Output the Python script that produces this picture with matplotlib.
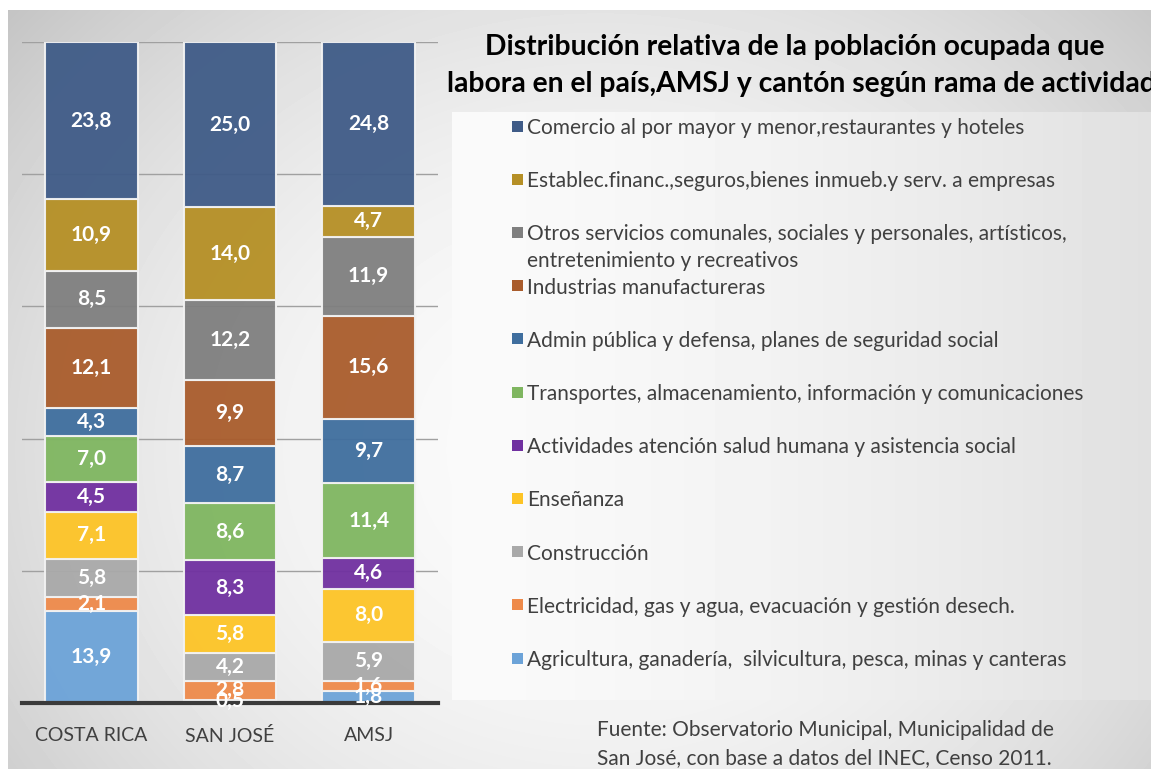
import matplotlib.pyplot as plt
import numpy as np
from matplotlib.patches import Rectangle

plt.rcParams['font.family'] = ['Lato', 'DejaVu Sans']

# data (stack order bottom -> top)
places = ['COSTA RICA', 'SAN JOSÉ', 'AMSJ']
ramas = [
    'Agricultura, ganadería,  silvicultura, pesca, minas y canteras',
    'Electricidad, gas y agua, evacuación y gestión desech.',
    'Construcción',
    'Enseñanza',
    'Actividades atención salud humana y asistencia social',
    'Transportes, almacenamiento, información y comunicaciones',
    'Admin pública y defensa, planes de seguridad social',
    'Industrias manufactureras',
    'Otros servicios comunales, sociales y personales, artísticos,\nentretenimiento y recreativos',
    'Establec.financ.,seguros,bienes inmueb.y serv. a empresas',
    'Comercio al por mayor y menor,restaurantes y hoteles',
]
costa_rica = [13.9, 2.1, 5.8, 7.1, 4.5, 7.0, 4.3, 12.1, 8.5, 10.9, 23.8]
san_jose = [0.5, 2.8, 4.2, 5.8, 8.3, 8.6, 8.7, 9.9, 12.2, 14.0, 25.0]
amsj = [1.8, 1.6, 5.9, 8.0, 4.6, 11.4, 9.7, 15.6, 11.9, 4.7, 24.8]
colors = ['#6CA3D8', '#EE8A4A', '#A9A9A9', '#FDC426', '#7030A0', '#7FB660',
          '#3F6E9E', '#A95C2C', '#7F7F7F', '#B58F25', '#3F5B87']
fuente = ['Fuente: Observatorio Municipal, Municipalidad de',
          'San José, con base a datos del INEC, Censo 2011.']

W, H = 1151, 769
fig = plt.figure(figsize=(W / 100, H / 100), dpi=100)

# background: soft radial gray gradient + lighter legend panel
yy, xx = np.mgrid[0:H, 0:W]
r2 = ((xx - 600) / 750.0) ** 2 + ((yy - 450) / 650.0) ** 2
bg = 0.985 - 0.2 * np.clip(r2, 0, 1.3)
panel = (xx >= 452) & (yy >= 112) & (yy <= 699)
bg[panel] = 0.98 - 0.1 * ((xx[panel] - 452) / 699.0) ** 1.5
bg[:10, :] = 1.0
bg[:, :8] = 1.0
bax = fig.add_axes([0, 0, 1, 1], zorder=-5)
bax.imshow(bg, cmap='gray', vmin=0, vmax=1, aspect='auto', interpolation='bilinear')
bax.axis('off')

ax = fig.add_axes([22 / W, 66 / H, 416 / W, 661 / H])
ax.patch.set_alpha(0)

x = np.arange(len(places))
bottom = np.zeros(len(places))
for i, rama in enumerate(ramas):
    vals = np.array([costa_rica[i], san_jose[i], amsj[i]])
    bars = ax.bar(x, vals, 0.667, bottom=bottom, color=colors[i], alpha=0.95,
                  edgecolor='#F2F2F2', linewidth=1.5, zorder=2)
    ax.bar_label(bars, labels=[f'{v:.1f}'.replace('.', ',') for v in vals],
                 label_type='center', color='white', fontsize=15, fontweight='bold')
    bottom += vals

ax.set_xlim(-0.5, 2.5)
ax.set_ylim(0, 100)
ax.set_yticks(np.arange(0, 101, 20))
ax.yaxis.grid(True, color='#A0A0A0', linewidth=1, zorder=0)
ax.set_axisbelow(True)
ax.tick_params(axis='y', left=False, labelleft=False)
ax.set_xticks(x)
ax.set_xticklabels(places, fontsize=14, color='#404040')
ax.tick_params(axis='x', length=0, pad=17)
for s in ['top', 'right', 'left']:
    ax.spines[s].set_visible(False)
ax.spines['bottom'].set_color('#3A3A3A')
ax.spines['bottom'].set_linewidth(3)

# title (second line runs past the right edge, as in the original)
fig.text(795 / W, 1 - 47 / H, 'Distribución relativa de la población ocupada que',
         ha='center', va='center', fontsize=20.3, fontweight='bold', color='black')
fig.text(447 / W, 1 - 84 / H, 'labora en el país,AMSJ y cantón según rama de actividad',
         ha='left', va='center', fontsize=20.3, fontweight='bold', color='black')

# legend (top -> bottom)
for k, i in enumerate(range(len(ramas) - 1, -1, -1)):
    yc = 126 + 53.2 * k
    fig.patches.append(Rectangle((512 / W, 1 - (yc + 5.5) / H), 11 / W, 11 / H,
                                 transform=fig.transFigure, facecolor=colors[i],
                                 edgecolor='none'))
    for j, line in enumerate(ramas[i].split('\n')):
        fig.text(527 / W, 1 - (yc + 27 * j) / H, line, ha='left', va='center_baseline',
                 fontsize=15, color='#404040')

# source
for j, line in enumerate(fuente):
    fig.text(597 / W, 1 - (728 + 28 * j) / H, line, ha='left', va='center_baseline',
             fontsize=15, color='#404040')

fig.savefig('out.png', dpi=100)
